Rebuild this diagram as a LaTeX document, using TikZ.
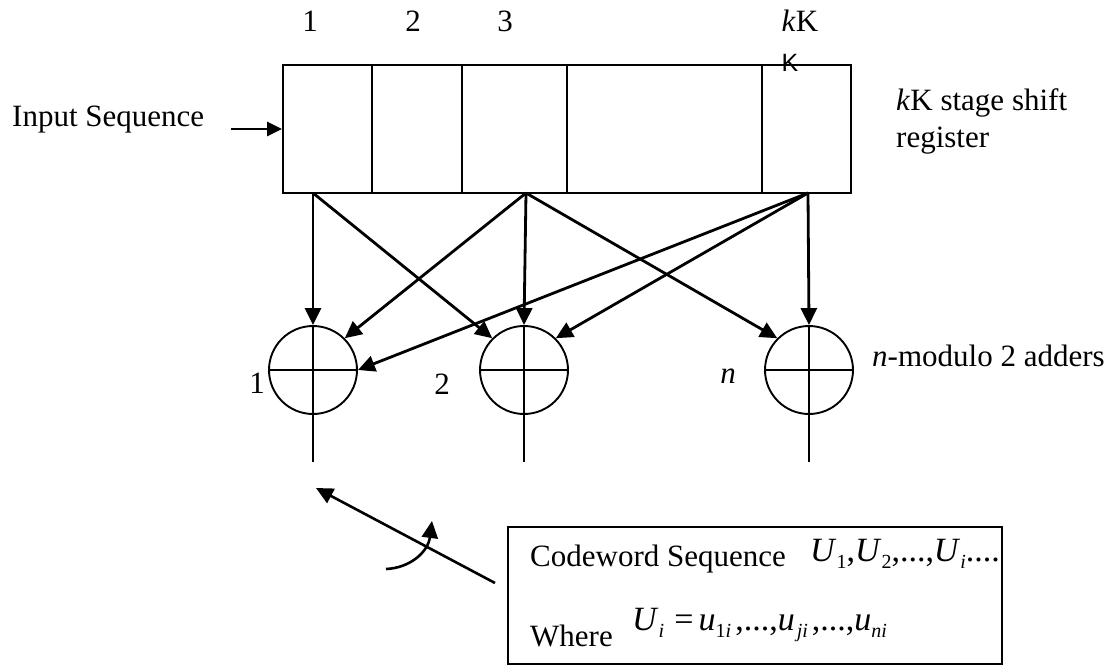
\documentclass[tikz,border=0pt]{standalone}
\usepackage{fontspec}
\usepackage{graphicx}
\setmainfont{Liberation Serif}
\newfontfamily\sansK{Liberation Sans}
\usetikzlibrary{arrows.meta}
\newcommand\sbx[1]{\raisebox{-0.22em}{\fontsize{20}{20}\selectfont #1}}
\newcommand\mfont{\fontsize{34}{40}\selectfont}
\begin{document}
\begin{tikzpicture}[x=1pt,y=-1pt,
  font=\fontsize{31}{36}\selectfont,
  cell/.style={draw,line width=1.8pt,rectangle,inner sep=0pt,minimum height=128pt},
  adder/.style={draw,line width=1.9pt,circle,inner sep=0pt,minimum size=88pt},
  conn/.style={line width=2.8pt,-{Triangle[length=17pt,width=16pt]}},
  wire/.style={line width=1.9pt},
  lbl/.style={inner sep=0pt,anchor=base}]
\useasboundingbox (0,0) rectangle (1117,666);
% shift register cells
\node[cell,minimum width=89pt]  (c1) at (327.5,129) {};
\node[cell,minimum width=90pt]  (c2) at (417,129) {};
\node[cell,minimum width=105pt] (c3) at (514.5,129) {};
\node[cell,minimum width=195pt] (c4) at (664.5,129) {};
\node[cell,minimum width=89pt]  (cK) at (806.5,129) {};
% top labels
\node[lbl] (l1) at (310,32) {1};
\node[lbl] (l2) at (413,32) {2};
\node[lbl] (l3) at (505,32) {3};
\node[lbl] (lK) at (800,32) {\textit{k}K};
\node[inner sep=0pt,font=\sansK\fontsize{25}{25}\selectfont] (sk) at (790,63) {K};
% input
\node[lbl,anchor=base west] (inp) at (12,127) {Input Sequence};
\coordinate (inS) at (231,129);
\draw[line width=2.5pt,-{Triangle[length=15pt,width=14pt]}] (inS) -- (c1.west |- inS);
\node[lbl,anchor=base west] (st1) at (896,111) {\textit{k}K stage shift};
\node[lbl,anchor=base west] (st2) at (896,148) {register};
% taps
\coordinate (t1) at (313,193);
\coordinate (t3) at (526,193);
\coordinate (tK) at (808,193);
% adders
\node[adder] (a1) at (313,370) {};
\node[adder] (a2) at (524,370) {};
\node[adder] (a3) at (809,370) {};
\foreach \a in {a1,a2,a3}{
  \draw[wire] (\a.north) -- (\a.south);
  \draw[wire] (\a.west) -- (\a.east);
}
\coordinate (o1) at (313,462);
\coordinate (o2) at (524,462);
\coordinate (o3) at (809,462);
\draw[wire] (a1.south) -- (o1);
\draw[wire] (a2.south) -- (o2);
\draw[wire] (a3.south) -- (o3);
% connections
\draw[conn] (t1) -- (a1.north);
\draw[conn] (t1) -- (a2.north west);
\draw[conn] (t3) -- (a1.north east);
\draw[conn] (t3) -- (a2.north);
\draw[conn] (t3) -- (a3.north west);
\draw[conn] (tK) -- (a1.east);
\draw[conn] (tK) -- (a2.north east);
\draw[conn] (tK) -- (a3.north);
% adder labels
\node[lbl] (n1) at (257,393) {1};
\node[lbl] (n2) at (442,394) {2};
\node[lbl] (nn) at (728,383) {\textit{n}};
\node[lbl,anchor=base west] (nm) at (872,366) {\textit{n}-modulo 2 adders};
% codeword box
\node[draw,line width=1.8pt,rectangle,inner sep=0pt,minimum width=494pt,minimum height=137pt] (cw) at (755,595.5) {};
\node[lbl,anchor=base west] (cwt) at (530,566) {Codeword Sequence};
\node[lbl,anchor=base west,font=\mfont] (cwm) at (810,561) {\textit{U}\sbx{1},\textit{U}\sbx{2},...,\textit{U}\sbx{\textit{i}}....};
\node[lbl,anchor=base west] (wh) at (530,646) {Where};
\node[lbl,anchor=base west,font=\mfont] (whm) at (632,630) {\textit{U}\sbx{\textit{i}}\hspace{0.3em}=\hspace{0.15em}\textit{u}\sbx{1\textit{i}}\hspace{0.12em},...,\textit{u}\sbx{\hspace{0.1em}\textit{ji}}\hspace{0.12em},...,\textit{u}\sbx{\textit{ni}}};
% pointer arrows
\coordinate (p1) at (495,583);
\coordinate (p2) at (316,488);
\draw[line width=2.6pt,-{Triangle[length=17pt,width=16pt]}] (p1) -- (p2);
\coordinate (q1) at (386,569);
\coordinate (q2) at (432,521);
\draw[line width=2.6pt,-{Triangle[length=17pt,width=16pt]}] (q1) .. controls (410,568) and (428,552) .. (q2);
\end{tikzpicture}
\end{document}
